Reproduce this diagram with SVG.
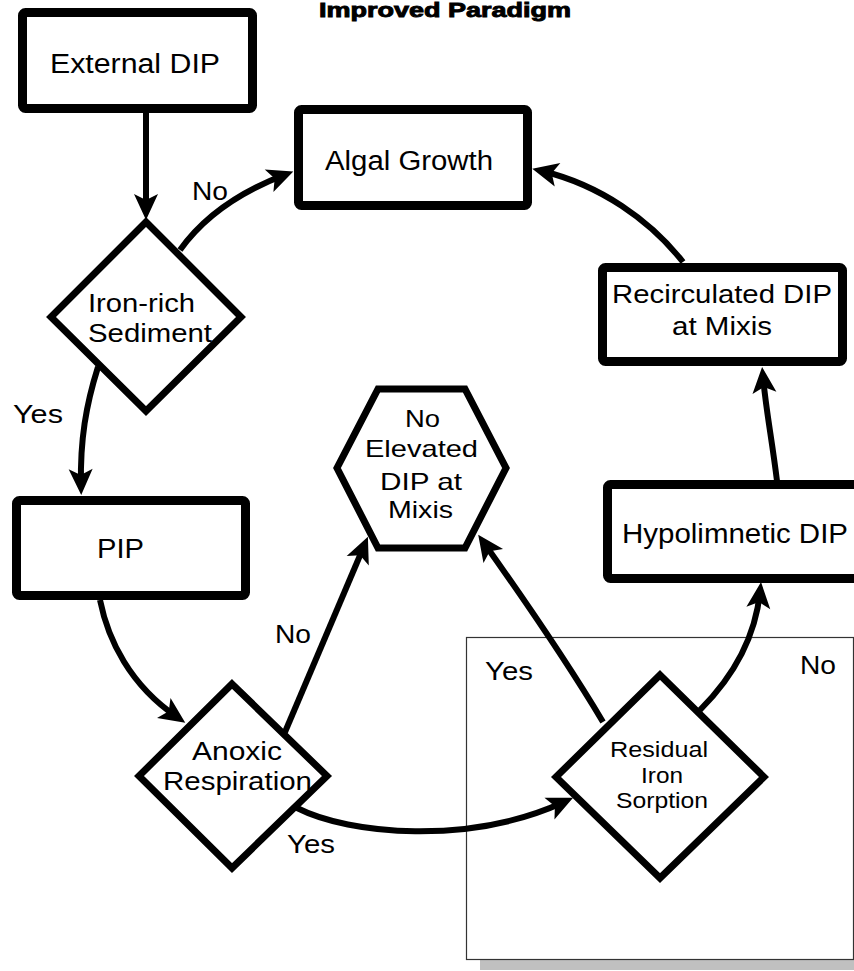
<svg xmlns="http://www.w3.org/2000/svg" width="854" height="971" viewBox="0 0 854 971">
<defs>
<style>
.t{font-family:"Liberation Sans",Arial,sans-serif;fill:#000}
.box{fill:#fff;stroke:#000;stroke-width:9;stroke-linejoin:round}
.dia{fill:#fff;stroke:#000;stroke-width:7;stroke-linejoin:miter}
.c{fill:none;stroke:#000;stroke-width:6;marker-end:url(#ah)}
</style>
<marker id="ah" markerUnits="userSpaceOnUse" viewBox="-18 -14 30 28" markerWidth="30" markerHeight="28" refX="0" refY="0" orient="auto">
<path d="M10,0 L-16,-12 L-10,0 L-16,12 Z" fill="#000"/>
</marker>
</defs>
<rect width="854" height="971" fill="#fff"/>
<text class="t" x="319" y="17" font-size="20" font-weight="bold" stroke="#000" stroke-width="0.9" textLength="252" lengthAdjust="spacingAndGlyphs">Improved Paradigm</text>

<g id="frame">
<rect x="480" y="650" width="390" height="320" fill="#c0c0c0"/>
<rect x="466.5" y="637.5" width="387" height="322" fill="#fff" stroke="#333" stroke-width="1.2"/>
</g>

<g id="connectors">
<path class="c" d="M146,112 L146,210" stroke-width="8"/>
<path class="c" d="M180,250 C205,215 240,192 284,175"/>
<path class="c" d="M98,367 C86,405 80,440 81,485"/>
<path class="c" d="M100,600 C108,640 130,685 177,717"/>
<path class="c" d="M285,732 L364,546" stroke-width="7"/>
<path class="c" d="M297,808 C350,835 470,845 564,802" stroke-width="5"/>
<path class="c" d="M603,722 Q560,650 484,543"/>
<path class="c" d="M700,710 C730,680 755,640 760,592"/>
<path class="c" d="M777,481 C772,440 766,410 763,377"/>
<path class="c" d="M683,262 C650,220 600,185 542,171"/>
</g>

<g id="external-dip">
<rect class="box" x="22.5" y="12.5" width="230" height="96" rx="3"/>
<text class="t" x="50" y="73" font-size="27" textLength="170" lengthAdjust="spacingAndGlyphs">External DIP</text>
</g>

<g id="algal-growth">
<rect class="box" x="298.5" y="109.5" width="229" height="96" rx="3"/>
<text class="t" x="325" y="170" font-size="27" textLength="168" lengthAdjust="spacingAndGlyphs">Algal Growth</text>
</g>

<g id="iron-rich">
<polygon class="dia" points="146,222 241,317 146,411 51,317"/>
<text class="t" x="88" y="312" font-size="25" textLength="107" lengthAdjust="spacingAndGlyphs">Iron-rich</text>
<text class="t" x="88" y="342" font-size="25" textLength="124" lengthAdjust="spacingAndGlyphs">Sediment</text>
</g>

<g id="pip">
<rect class="box" x="16.5" y="500.5" width="229" height="95" rx="3"/>
<text class="t" x="97" y="558" font-size="27" textLength="47" lengthAdjust="spacingAndGlyphs">PIP</text>
</g>

<g id="anoxic">
<polygon class="dia" points="232,684 327,776 232,868 139,776"/>
<text class="t" x="192" y="760" font-size="25" textLength="90" lengthAdjust="spacingAndGlyphs">Anoxic</text>
<text class="t" x="163" y="790" font-size="25" textLength="149" lengthAdjust="spacingAndGlyphs">Respiration</text>
</g>

<g id="no-elevated">
<polygon class="dia" points="378,389 465,389 506,468 465,548 378,548 337,468"/>
<text class="t" x="405" y="427" font-size="24" textLength="35" lengthAdjust="spacingAndGlyphs">No</text>
<text class="t" x="365" y="457" font-size="24" textLength="113" lengthAdjust="spacingAndGlyphs">Elevated</text>
<text class="t" x="380" y="490" font-size="24" textLength="82" lengthAdjust="spacingAndGlyphs">DIP at</text>
<text class="t" x="388" y="518" font-size="24" textLength="65" lengthAdjust="spacingAndGlyphs">Mixis</text>
</g>

<g id="residual">
<polygon class="dia" points="660,675 764,777 660,878 556,777"/>
<text class="t" x="610" y="757" font-size="22" textLength="98" lengthAdjust="spacingAndGlyphs">Residual</text>
<text class="t" x="641" y="783" font-size="22" textLength="42" lengthAdjust="spacingAndGlyphs">Iron</text>
<text class="t" x="616" y="808" font-size="22" textLength="92" lengthAdjust="spacingAndGlyphs">Sorption</text>
</g>

<g id="hypolimnetic">
<rect class="box" x="607.5" y="484.5" width="260" height="94" rx="3"/>
<text class="t" x="622" y="543" font-size="27" textLength="226" lengthAdjust="spacingAndGlyphs">Hypolimnetic DIP</text>
</g>

<g id="recirculated">
<rect class="box" x="602.5" y="267.5" width="240" height="94" rx="3"/>
<text class="t" x="612" y="303" font-size="25" textLength="220" lengthAdjust="spacingAndGlyphs">Recirculated DIP</text>
<text class="t" x="672" y="335" font-size="25" textLength="100" lengthAdjust="spacingAndGlyphs">at Mixis</text>
</g>

<g id="labels">
<text class="t" x="192" y="200" font-size="25" textLength="36" lengthAdjust="spacingAndGlyphs">No</text>
<text class="t" x="13" y="423" font-size="25" textLength="50" lengthAdjust="spacingAndGlyphs">Yes</text>
<text class="t" x="275" y="643" font-size="25" textLength="36" lengthAdjust="spacingAndGlyphs">No</text>
<text class="t" x="287" y="853" font-size="25" textLength="48" lengthAdjust="spacingAndGlyphs">Yes</text>
<text class="t" x="485" y="680" font-size="25" textLength="48" lengthAdjust="spacingAndGlyphs">Yes</text>
<text class="t" x="800" y="674" font-size="25" textLength="36" lengthAdjust="spacingAndGlyphs">No</text>
</g>
</svg>
